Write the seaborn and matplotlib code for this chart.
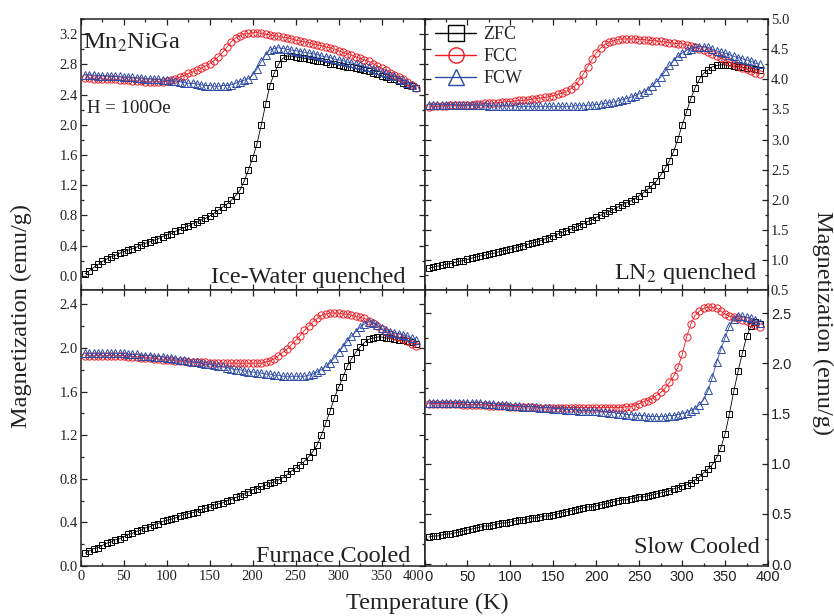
import numpy as np
import matplotlib
matplotlib.use("Agg")
import matplotlib.pyplot as plt
from matplotlib.lines import Line2D
from matplotlib.ticker import MultipleLocator
import seaborn as sns

# temperature grid (K) the curves were read on
temperature = np.arange(5, 395, 5)

# Ice-Water quenched
iw_zfc = [0.03, 0.07, 0.11, 0.15, 0.19, 0.22, 0.25, 0.27, 0.30, 0.32,
          0.34, 0.36, 0.38, 0.41, 0.43, 0.45, 0.47, 0.49, 0.52, 0.54,
          0.56, 0.59, 0.61, 0.64, 0.66, 0.69, 0.71, 0.74, 0.76, 0.79,
          0.83, 0.87, 0.91, 0.95, 1.00, 1.06, 1.13, 1.25, 1.40, 1.56,
          1.75, 2.00, 2.27, 2.52, 2.68, 2.80, 2.88, 2.91, 2.91, 2.90,
          2.89, 2.88, 2.87, 2.86, 2.85, 2.84, 2.83, 2.81, 2.80, 2.79,
          2.78, 2.77, 2.76, 2.75, 2.74, 2.72, 2.71, 2.69, 2.67, 2.65,
          2.63, 2.61, 2.60, 2.58, 2.56, 2.53, 2.51, 2.49]
iw_fcc = [2.62, 2.62, 2.61, 2.61, 2.61, 2.60, 2.60, 2.60, 2.59, 2.59,
          2.59, 2.58, 2.58, 2.58, 2.57, 2.57, 2.57, 2.57, 2.57, 2.58,
          2.59, 2.61, 2.63, 2.65, 2.68, 2.70, 2.72, 2.75, 2.78, 2.81,
          2.85, 2.90, 2.96, 3.03, 3.10, 3.15, 3.18, 3.20, 3.21, 3.22,
          3.22, 3.21, 3.20, 3.19, 3.18, 3.17, 3.16, 3.15, 3.14, 3.12,
          3.11, 3.10, 3.09, 3.07, 3.06, 3.05, 3.03, 3.02, 3.00, 2.98,
          2.96, 2.94, 2.92, 2.90, 2.88, 2.86, 2.84, 2.81, 2.78, 2.75,
          2.72, 2.69, 2.66, 2.63, 2.60, 2.57, 2.53, 2.49]
iw_fcw = [2.66, 2.66, 2.66, 2.65, 2.65, 2.65, 2.64, 2.64, 2.64, 2.63,
          2.63, 2.63, 2.62, 2.62, 2.61, 2.61, 2.60, 2.60, 2.59, 2.59,
          2.58, 2.58, 2.57, 2.56, 2.55, 2.55, 2.54, 2.53, 2.52, 2.52,
          2.51, 2.51, 2.52, 2.52, 2.53, 2.55, 2.57, 2.59, 2.61, 2.66,
          2.74, 2.84, 2.93, 2.99, 3.01, 3.02, 3.01, 3.00, 2.99, 2.98,
          2.97, 2.96, 2.95, 2.94, 2.93, 2.91, 2.90, 2.89, 2.87, 2.86,
          2.85, 2.83, 2.82, 2.80, 2.79, 2.77, 2.76, 2.74, 2.72, 2.70,
          2.68, 2.66, 2.64, 2.61, 2.59, 2.56, 2.53, 2.50]

# LN2 quenched
ln_zfc = [0.86, 0.88, 0.90, 0.91, 0.93, 0.94, 0.96, 0.98, 0.99, 1.01,
          1.03, 1.05, 1.07, 1.08, 1.10, 1.11, 1.13, 1.15, 1.16, 1.18,
          1.20, 1.22, 1.24, 1.26, 1.28, 1.30, 1.32, 1.35, 1.37, 1.40,
          1.43, 1.46, 1.48, 1.51, 1.54, 1.57, 1.60, 1.64, 1.67, 1.71,
          1.74, 1.78, 1.81, 1.84, 1.88, 1.91, 1.95, 1.98, 2.02, 2.07,
          2.12, 2.18, 2.24, 2.31, 2.41, 2.52, 2.65, 2.80, 3.01, 3.24,
          3.46, 3.68, 3.86, 4.00, 4.10, 4.16, 4.21, 4.23, 4.24, 4.24,
          4.23, 4.22, 4.21, 4.20, 4.19, 4.18, 4.17, 4.16]
ln_fcc = [3.54, 3.55, 3.55, 3.56, 3.56, 3.57, 3.57, 3.57, 3.58, 3.58,
          3.58, 3.59, 3.59, 3.60, 3.60, 3.61, 3.61, 3.62, 3.63, 3.63,
          3.64, 3.65, 3.65, 3.66, 3.67, 3.68, 3.69, 3.70, 3.71, 3.73,
          3.75, 3.77, 3.80, 3.84, 3.89, 3.98, 4.09, 4.21, 4.33, 4.44,
          4.52, 4.58, 4.62, 4.64, 4.66, 4.67, 4.67, 4.67, 4.67, 4.66,
          4.66, 4.65, 4.64, 4.64, 4.63, 4.62, 4.61, 4.60, 4.59, 4.59,
          4.57, 4.55, 4.53, 4.51, 4.48, 4.45, 4.42, 4.39, 4.35, 4.32,
          4.28, 4.25, 4.22, 4.19, 4.17, 4.14, 4.11, 4.09]
ln_fcw = [3.58, 3.58, 3.58, 3.58, 3.58, 3.58, 3.58, 3.57, 3.57, 3.57,
          3.57, 3.57, 3.57, 3.57, 3.56, 3.56, 3.56, 3.56, 3.56, 3.56,
          3.56, 3.55, 3.55, 3.55, 3.55, 3.55, 3.55, 3.55, 3.55, 3.55,
          3.55, 3.55, 3.55, 3.55, 3.56, 3.56, 3.56, 3.57, 3.57, 3.58,
          3.59, 3.60, 3.61, 3.62, 3.64, 3.66, 3.68, 3.70, 3.73, 3.76,
          3.79, 3.83, 3.89, 3.96, 4.04, 4.13, 4.23, 4.31, 4.38, 4.44,
          4.48, 4.51, 4.53, 4.54, 4.54, 4.53, 4.50, 4.47, 4.45, 4.43,
          4.41, 4.38, 4.36, 4.34, 4.32, 4.30, 4.27, 4.25]

# Furnace cooled
fc_zfc = [0.12, 0.14, 0.16, 0.17, 0.19, 0.21, 0.22, 0.24, 0.25, 0.27,
          0.29, 0.30, 0.32, 0.33, 0.35, 0.36, 0.38, 0.39, 0.41, 0.42,
          0.43, 0.44, 0.46, 0.47, 0.48, 0.49, 0.50, 0.52, 0.53, 0.54,
          0.56, 0.57, 0.58, 0.60, 0.61, 0.63, 0.64, 0.66, 0.68, 0.70,
          0.71, 0.73, 0.74, 0.76, 0.77, 0.79, 0.81, 0.84, 0.87, 0.90,
          0.93, 0.96, 1.00, 1.05, 1.11, 1.20, 1.31, 1.42, 1.54, 1.64,
          1.73, 1.83, 1.90, 1.96, 2.01, 2.05, 2.08, 2.09, 2.10, 2.10,
          2.09, 2.09, 2.08, 2.07, 2.07, 2.06, 2.05, 2.04]
fc_fcc = [1.93, 1.93, 1.93, 1.93, 1.93, 1.93, 1.93, 1.93, 1.93, 1.93,
          1.92, 1.92, 1.92, 1.91, 1.91, 1.91, 1.90, 1.90, 1.89, 1.89,
          1.89, 1.88, 1.88, 1.88, 1.87, 1.87, 1.87, 1.87, 1.87, 1.86,
          1.86, 1.86, 1.86, 1.86, 1.86, 1.86, 1.86, 1.86, 1.86, 1.86,
          1.86, 1.86, 1.87, 1.88, 1.90, 1.93, 1.96, 1.99, 2.03, 2.07,
          2.11, 2.16, 2.20, 2.24, 2.27, 2.30, 2.31, 2.32, 2.32, 2.32,
          2.31, 2.31, 2.30, 2.29, 2.28, 2.27, 2.25, 2.23, 2.20, 2.17,
          2.15, 2.13, 2.11, 2.10, 2.08, 2.06, 2.04, 2.02]
fc_fcw = [1.95, 1.95, 1.95, 1.95, 1.95, 1.95, 1.95, 1.95, 1.95, 1.95,
          1.94, 1.94, 1.94, 1.93, 1.93, 1.93, 1.92, 1.92, 1.92, 1.91,
          1.91, 1.90, 1.89, 1.89, 1.88, 1.87, 1.87, 1.86, 1.85, 1.85,
          1.84, 1.83, 1.83, 1.82, 1.81, 1.80, 1.80, 1.79, 1.78, 1.78,
          1.77, 1.77, 1.76, 1.76, 1.75, 1.75, 1.74, 1.74, 1.74, 1.74,
          1.74, 1.74, 1.75, 1.76, 1.78, 1.80, 1.83, 1.86, 1.91, 1.96,
          2.01, 2.06, 2.11, 2.15, 2.19, 2.22, 2.24, 2.23, 2.21, 2.18,
          2.16, 2.15, 2.14, 2.13, 2.12, 2.11, 2.09, 2.07]

# Slow cooled
sc_zfc = [0.27, 0.28, 0.28, 0.29, 0.30, 0.30, 0.31, 0.32, 0.33, 0.34,
          0.35, 0.36, 0.37, 0.38, 0.38, 0.39, 0.40, 0.41, 0.41, 0.42,
          0.43, 0.44, 0.44, 0.45, 0.46, 0.46, 0.47, 0.48, 0.48, 0.49,
          0.50, 0.51, 0.52, 0.53, 0.54, 0.55, 0.56, 0.57, 0.57, 0.58,
          0.59, 0.60, 0.61, 0.62, 0.63, 0.64, 0.64, 0.65, 0.66, 0.67,
          0.67, 0.68, 0.69, 0.70, 0.71, 0.72, 0.73, 0.75, 0.76, 0.78,
          0.79, 0.81, 0.84, 0.87, 0.91, 0.95, 0.99, 1.06, 1.16, 1.30,
          1.50, 1.72, 1.92, 2.10, 2.27, 2.37, 2.41, 2.39]
sc_fcc = [1.60, 1.60, 1.60, 1.60, 1.60, 1.60, 1.60, 1.60, 1.59, 1.59,
          1.59, 1.59, 1.59, 1.59, 1.58, 1.58, 1.58, 1.58, 1.58, 1.57,
          1.57, 1.57, 1.57, 1.57, 1.57, 1.56, 1.56, 1.56, 1.56, 1.56,
          1.56, 1.56, 1.56, 1.56, 1.56, 1.56, 1.56, 1.56, 1.56, 1.56,
          1.56, 1.56, 1.56, 1.56, 1.56, 1.56, 1.57, 1.57, 1.58, 1.60,
          1.62, 1.63, 1.65, 1.68, 1.71, 1.75, 1.81, 1.87, 1.96, 2.09,
          2.26, 2.39, 2.48, 2.52, 2.55, 2.56, 2.56, 2.55, 2.52, 2.49,
          2.47, 2.46, 2.45, 2.43, 2.42, 2.40, 2.38, 2.36]
sc_fcw = [1.61, 1.61, 1.61, 1.61, 1.61, 1.61, 1.61, 1.61, 1.61, 1.61,
          1.61, 1.61, 1.61, 1.60, 1.60, 1.60, 1.59, 1.59, 1.59, 1.58,
          1.58, 1.58, 1.57, 1.57, 1.57, 1.57, 1.56, 1.56, 1.56, 1.55,
          1.55, 1.55, 1.54, 1.54, 1.54, 1.53, 1.53, 1.53, 1.53, 1.53,
          1.52, 1.52, 1.51, 1.51, 1.50, 1.50, 1.49, 1.49, 1.48, 1.48,
          1.48, 1.47, 1.47, 1.47, 1.47, 1.47, 1.48, 1.48, 1.49, 1.50,
          1.51, 1.53, 1.55, 1.59, 1.64, 1.73, 1.86, 2.01, 2.14, 2.26,
          2.37, 2.44, 2.47, 2.47, 2.46, 2.45, 2.43, 2.40]

series_names = ["ZFC", "FCC", "FCW"]
series_colors = ["black", "#ec1c24", "#2d4ca6"]
series_markers = ["s", "o", "^"]
series_msize = [4.6, 5.2, 5.6]

SERIF = "Liberation Serif"
SANS = "Liberation Sans"

sns.set_style("ticks")
plt.rcParams["font.family"] = [SERIF, "DejaVu Serif"]
plt.rcParams["mathtext.fontset"] = "stix"
plt.rcParams["axes.linewidth"] = 1.1

fig = plt.figure(figsize=(8.34, 6.16), dpi=100)
ax_tl = fig.add_axes([0.097, 0.529, 0.412, 0.440])
ax_tr = fig.add_axes([0.509, 0.529, 0.412, 0.440])
ax_bl = fig.add_axes([0.097, 0.081, 0.412, 0.448])
ax_br = fig.add_axes([0.509, 0.081, 0.412, 0.448])

panels = [
    (ax_tl, [iw_zfc, iw_fcc, iw_fcw], (-0.19, 3.40), 0.4, "left", SERIF, False),
    (ax_tr, [ln_zfc, ln_fcc, ln_fcw], (0.5, 5.0), 0.5, "right", SERIF, False),
    (ax_bl, [fc_zfc, fc_fcc, fc_fcw], (0.0, 2.53), 0.4, "left", SERIF, True),
    (ax_br, [sc_zfc, sc_fcc, sc_fcw], (-0.02, 2.73), 0.5, "right", SANS, True),
]

for ax, curves, ylim, ystep, yside, tickfont, xlabels in panels:
    for vals, color, marker, msize in zip(curves, series_colors, series_markers, series_msize):
        sns.lineplot(x=temperature, y=vals, ax=ax, color=color, linewidth=0.6,
                     marker=marker, markersize=msize, markerfacecolor="none",
                     markeredgecolor=color, markeredgewidth=0.7,
                     estimator=None, sort=False, legend=False, zorder=3)
    ax.set_xlim(0, 400)
    ax.set_ylim(*ylim)
    ax.xaxis.set_major_locator(MultipleLocator(50))
    ax.xaxis.set_minor_locator(MultipleLocator(25))
    ax.yaxis.set_major_locator(MultipleLocator(ystep))
    ax.yaxis.set_minor_locator(MultipleLocator(ystep / 2))
    ax.tick_params(which="both", direction="in", top=True, bottom=True,
                   left=True, right=True, width=0.9, color="#222222",
                   labelsize=10.5, labelcolor="#222222", pad=2,
                   labelfontfamily=tickfont)
    ax.tick_params(which="major", length=4)
    ax.tick_params(which="minor", length=2.2)
    ax.tick_params(axis="x", labelbottom=xlabels, pad=3)
    ax.tick_params(axis="y", labelleft=(yside == "left"), labelright=(yside == "right"))
    ax.set_xlabel("")
    ax.set_ylabel("")
    for sp in ax.spines.values():
        sp.set_color("#222222")

# the 400 / 0 labels meet at the shared edge: push them apart a little
fig.canvas.draw()
for lab in ax_bl.get_xticklabels():
    if lab.get_text() == "400":
        lab.set_horizontalalignment("right")
for lab in ax_br.get_xticklabels():
    if lab.get_text() == "0":
        lab.set_horizontalalignment("left")

label_kw = dict(fontsize=17.5, color="#222222")
ax_tl.text(0.945, 0.026, "Ice-Water quenched", transform=ax_tl.transAxes,
           ha="right", va="baseline", **label_kw)
ax_tl.text(0.006, 0.889, "Mn$_2$NiGa", transform=ax_tl.transAxes,
           ha="left", va="baseline", **label_kw)
ax_tl.text(0.018, 0.653, "H = 100Oe", transform=ax_tl.transAxes,
           ha="left", va="baseline", fontsize=13.5, color="#222222")
ax_tr.text(0.968, 0.04, "LN$_2$ quenched", transform=ax_tr.transAxes,
           ha="right", va="baseline", **label_kw)
ax_bl.text(0.959, 0.016, "Furnace Cooled", transform=ax_bl.transAxes,
           ha="right", va="baseline", **label_kw)
ax_br.text(0.977, 0.047, "Slow Cooled", transform=ax_br.transAxes,
           ha="right", va="baseline", **label_kw)

handles = [Line2D([], [], color=c, marker=m, markerfacecolor="none",
                  markeredgecolor=c, markersize=11, lw=1, markeredgewidth=1)
           for c, m in zip(series_colors, series_markers)]
ax_tr.legend(handles, series_names, loc="upper left", bbox_to_anchor=(0.03, 0.975),
             frameon=False, fontsize=13, handlelength=2.3, handletextpad=0.4,
             labelspacing=0.28, borderpad=0, borderaxespad=0)

fig.text(0.026, 0.487, "Magnetization (emu/g)", rotation=90, ha="center",
         va="center", **label_kw)
fig.text(0.986, 0.476, "Magnetization (emu/g)", rotation=270, ha="center",
         va="center", **label_kw)
fig.text(0.512, 0.021, "Temperature (K)", ha="center", va="center", **label_kw)

fig.savefig("out.png", dpi=100)
